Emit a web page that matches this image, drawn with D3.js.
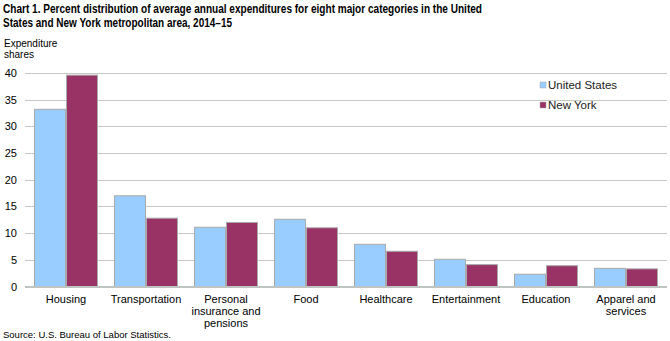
<!DOCTYPE html>
<html>
<head>
<meta charset="utf-8">
<script src="https://cdn.jsdelivr.net/npm/d3@7/dist/d3.min.js"></script>
<style>
  html, body { margin: 0; padding: 0; background: #fff; }
  svg { display: block; font-family: "Liberation Sans", Arial, sans-serif; }
</style>
</head>
<body>
<svg id="chart" width="670" height="341"></svg>
<script>
// Expenditure shares (percent), 2014–15
const categories = [
  ["Housing"],
  ["Transportation"],
  ["Personal", "insurance and", "pensions"],
  ["Food"],
  ["Healthcare"],
  ["Entertainment"],
  ["Education"],
  ["Apparel and", "services"]
];
const seriesNames = ["United States", "New York"];
const unitedStates = [33.2, 17.0, 11.1, 12.6, 7.9, 5.1, 2.3, 3.4];
const newYork      = [39.6, 12.8, 12.0, 11.0, 6.6, 4.1, 3.9, 3.3];
const yTicks = [0, 5, 10, 15, 20, 25, 30, 35, 40];
const colors = ["#99ccff", "#993366"];

const svg = d3.select("#chart");
const keys = categories.map(c => c.join(" "));
const table = keys.map((k, i) => ({ key: k, values: [unitedStates[i], newYork[i]] }));

const x = d3.scaleBand().domain(keys).range([26, 666]).paddingInner(0.2).paddingOuter(0.1);
const xs = d3.scaleBand().domain(d3.range(seriesNames.length)).range([0, x.bandwidth()]);
const y = d3.scaleLinear().domain([0, 40]).range([286.5, 73]);

// Title
const title = svg.append("g").attr("font-weight", "bold").attr("font-size", 13.5)
  .attr("font-family", "'Liberation Sans Narrow', 'Liberation Sans', Arial, sans-serif");
title.append("text").attr("x", 3).attr("y", 12.5)
  .attr("textLength", 479).attr("lengthAdjust", "spacingAndGlyphs")
  .text("Chart 1. Percent distribution of average annual expenditures for eight major categories in the United");
title.append("text").attr("x", 3).attr("y", 26.5)
  .attr("textLength", 229).attr("lengthAdjust", "spacingAndGlyphs")
  .text("States and New York metropolitan area, 2014–15");

// Axis caption
svg.append("text").attr("x", 4).attr("y", 47).attr("font-size", 10).text("Expenditure");
svg.append("text").attr("x", 4).attr("y", 58).attr("font-size", 10).text("shares");

// Gridlines
svg.append("g").selectAll("line").data(yTicks.filter(t => t > 0)).join("line")
  .attr("x1", 25).attr("x2", 667)
  .attr("y1", d => Math.round(y(d)) + 0.5).attr("y2", d => Math.round(y(d)) + 0.5)
  .attr("stroke", "#c4c9c4").attr("stroke-width", 1);

// Y axis labels
const yAxis = d3.axisLeft(y).tickValues(yTicks).tickSize(0).tickPadding(0);
const ya = svg.append("g").attr("transform", "translate(17,0)").call(yAxis);
ya.select(".domain").remove();
ya.selectAll("text").attr("font-size", 11).attr("fill", "#000")
  .attr("font-family", "'Liberation Sans', Arial, sans-serif");

// Bars
const groups = svg.append("g").selectAll("g").data(table).join("g")
  .attr("transform", d => `translate(${x(d.key)},0)`);
groups.selectAll("rect").data(d => d.values.map((v, i) => ({ v, i }))).join("rect")
  .attr("x", d => xs(d.i) + 0.5)
  .attr("y", d => y(d.v))
  .attr("width", xs.bandwidth() - 1)
  .attr("height", d => y(0) - y(d.v))
  .attr("fill", d => colors[d.i])
  .attr("stroke", "#aaaaaa").attr("stroke-width", 1);

// Baseline
svg.append("line").attr("x1", 25).attr("x2", 667)
  .attr("y1", y(0) + 0.5).attr("y2", y(0) + 0.5)
  .attr("stroke", "#c0c4c0").attr("stroke-width", 2);

// Category labels
const xl = svg.append("g").selectAll("text").data(categories).join("text")
  .attr("x", (d, i) => x(keys[i]) + x.bandwidth() / 2)
  .attr("y", 303)
  .attr("text-anchor", "middle").attr("font-size", 11).attr("fill", "#000");
xl.selectAll("tspan").data(d => d).join("tspan")
  .attr("x", function () { return this.parentNode.getAttribute("x"); })
  .attr("dy", (d, i) => i === 0 ? 0 : 12)
  .text(d => d);

// Legend
const legend = svg.append("g").selectAll("g").data(seriesNames).join("g")
  .attr("transform", (d, i) => `translate(540,${85 + i * 20})`);
legend.append("rect").attr("x", 0).attr("y", -3).attr("width", 6).attr("height", 6)
  .attr("fill", (d, i) => colors[i]).attr("stroke", "#aaaaaa").attr("stroke-width", 0.5);
legend.append("text").attr("x", 8).attr("y", 4).attr("font-size", 11.5).attr("fill", "#222")
  .text(d => d);

// Source note
svg.append("text").attr("x", 3).attr("y", 338).attr("font-size", 9.5).text("Source: U.S. Bureau of Labor Statistics.");
</script>
</body>
</html>
